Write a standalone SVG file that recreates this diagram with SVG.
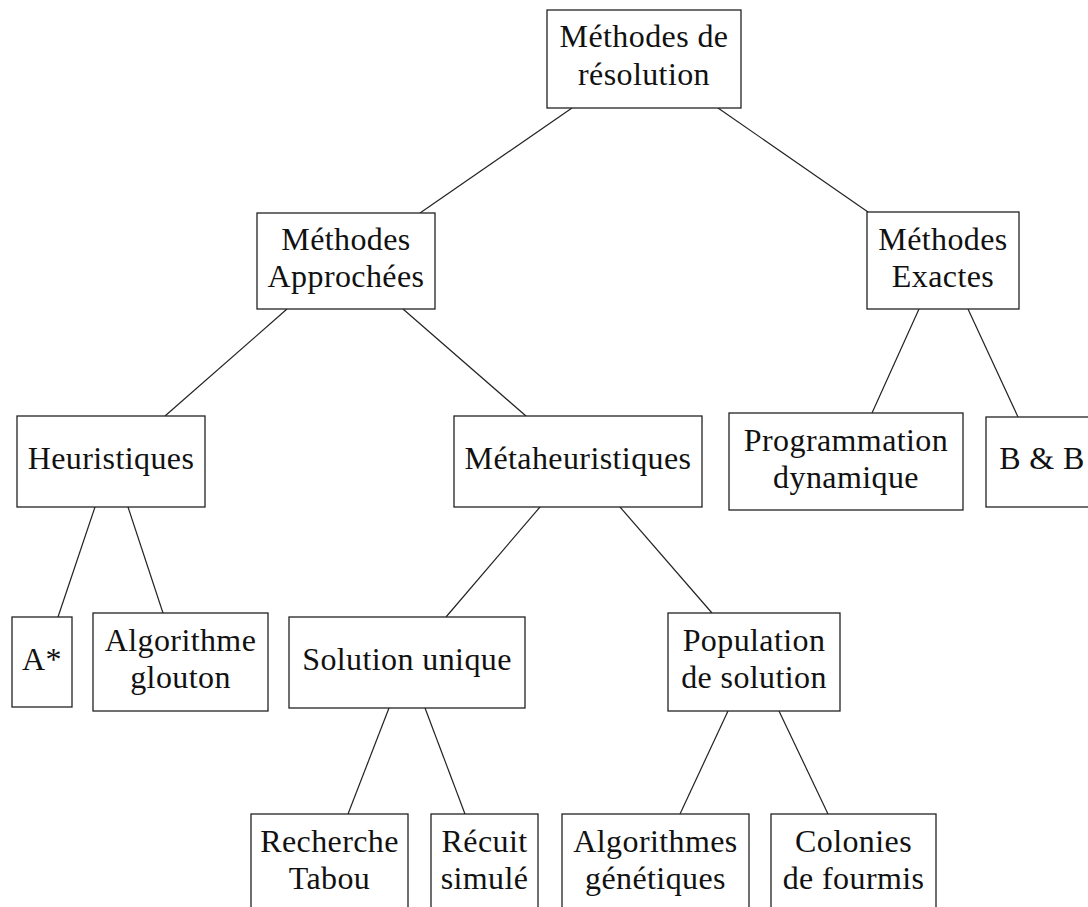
<svg xmlns="http://www.w3.org/2000/svg" width="1088" height="907" viewBox="0 0 1088 907">
  <style>
    .box { fill: #ffffff; stroke: #222222; stroke-width: 1.3; }
    .edge { stroke: #222222; stroke-width: 1.2; fill: none; }
    text { font-family: "Liberation Serif", "DejaVu Serif", serif; font-size: 32px; fill: #111111; text-anchor: middle; letter-spacing: 0.4px; }
  </style>
  <rect x="0" y="0" width="1088" height="907" fill="#ffffff"/>

  <!-- tree edges -->
  <g id="edges">
    <line class="edge" x1="572" y1="108" x2="420" y2="213"/>
    <line class="edge" x1="718" y1="108" x2="868" y2="212"/>
    <line class="edge" x1="287" y1="309" x2="165" y2="416"/>
    <line class="edge" x1="403" y1="309" x2="526" y2="416"/>
    <line class="edge" x1="919" y1="309" x2="872" y2="413"/>
    <line class="edge" x1="968" y1="309" x2="1018" y2="417"/>
    <line class="edge" x1="95" y1="507" x2="58" y2="617"/>
    <line class="edge" x1="128" y1="507" x2="163" y2="613"/>
    <line class="edge" x1="540" y1="507" x2="446" y2="617"/>
    <line class="edge" x1="620" y1="507" x2="712" y2="613"/>
    <line class="edge" x1="389" y1="708" x2="348" y2="814"/>
    <line class="edge" x1="425" y1="708" x2="465" y2="814"/>
    <line class="edge" x1="728" y1="711" x2="680" y2="814"/>
    <line class="edge" x1="779" y1="711" x2="828" y2="814"/>
  </g>

  <g id="root">
    <rect class="box" x="547" y="10" width="194" height="98"/>
    <text x="644" y="47">Méthodes de</text>
    <text x="644" y="85">résolution</text>
  </g>

  <g id="approchees">
    <rect class="box" x="257" y="213" width="178" height="96"/>
    <text x="346" y="250">Méthodes</text>
    <text x="346" y="287">Approchées</text>
  </g>

  <g id="exactes">
    <rect class="box" x="867" y="212" width="152" height="97"/>
    <text x="943" y="250">Méthodes</text>
    <text x="943" y="287">Exactes</text>
  </g>

  <g id="heuristiques">
    <rect class="box" x="17" y="416" width="188" height="91"/>
    <text x="111" y="469">Heuristiques</text>
  </g>

  <g id="metaheuristiques">
    <rect class="box" x="454" y="416" width="248" height="91"/>
    <text x="578" y="469">Métaheuristiques</text>
  </g>

  <g id="prog-dynamique">
    <rect class="box" x="729" y="413" width="234" height="97"/>
    <text x="846" y="451">Programmation</text>
    <text x="846" y="488">dynamique</text>
  </g>

  <g id="branch-bound">
    <rect class="box" x="986" y="417" width="112" height="90"/>
    <text x="1042" y="469">B &amp; B</text>
  </g>

  <g id="a-star">
    <rect class="box" x="12" y="617" width="60" height="90"/>
    <text x="42" y="670">A*</text>
  </g>

  <g id="glouton">
    <rect class="box" x="93" y="613" width="175" height="98"/>
    <text x="180.5" y="651">Algorithme</text>
    <text x="180.5" y="688">glouton</text>
  </g>

  <g id="solution-unique">
    <rect class="box" x="289" y="617" width="236" height="91"/>
    <text x="407" y="670">Solution unique</text>
  </g>

  <g id="population">
    <rect class="box" x="668" y="613" width="172" height="98"/>
    <text x="754" y="651">Population</text>
    <text x="754" y="688">de solution</text>
  </g>

  <g id="tabou">
    <rect class="box" x="251" y="814" width="157" height="98"/>
    <text x="329.5" y="852">Recherche</text>
    <text x="329.5" y="889">Tabou</text>
  </g>

  <g id="recuit">
    <rect class="box" x="431" y="814" width="107" height="98"/>
    <text x="484.5" y="852">Récuit</text>
    <text x="484.5" y="889">simulé</text>
  </g>

  <g id="genetiques">
    <rect class="box" x="562" y="814" width="187" height="98"/>
    <text x="655.5" y="852">Algorithmes</text>
    <text x="655.5" y="889">génétiques</text>
  </g>

  <g id="fourmis">
    <rect class="box" x="771" y="814" width="165" height="98"/>
    <text x="853.5" y="852">Colonies</text>
    <text x="853.5" y="889">de fourmis</text>
  </g>
</svg>
